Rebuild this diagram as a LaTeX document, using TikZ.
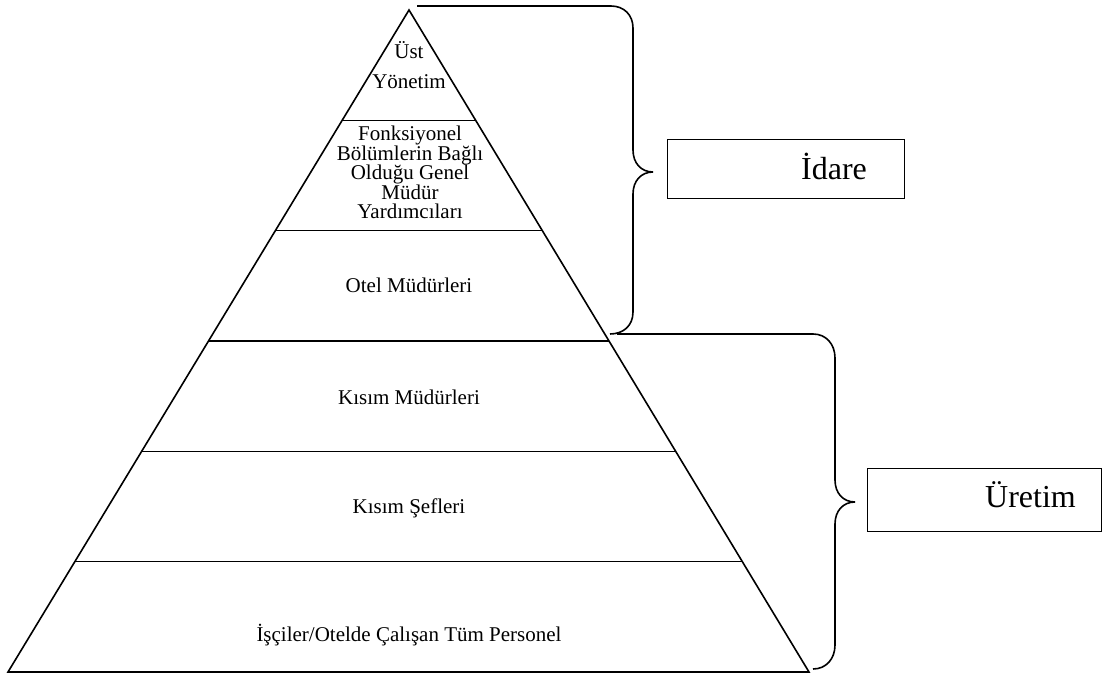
\documentclass[tikz,border=0pt]{standalone}
\usepackage{fontspec}
\setmainfont{Liberation Serif}
\usetikzlibrary{calc}
\tikzset{
  edge/.style={line width=1.6pt, line join=miter},
  brace/.style={line width=1.6pt},
  lvl/.style={inner sep=0pt, align=center, font={\fontsize{21}{19.4}\selectfont}},
  lbox/.style={draw, line width=1.4pt, minimum width=237pt, minimum height=59pt, inner sep=0pt},
  lbl/.style={inner sep=0pt, anchor=base west, font={\fontsize{32}{36}\selectfont}}
}
\begin{document}
\begin{tikzpicture}[x=1pt,y=-1pt]
\useasboundingbox (0,0) rectangle (1103,676);
% pyramid
\coordinate (apex) at (409,10);
\coordinate (bl) at (8,672);
\coordinate (br) at (809,672);
\draw[edge] (apex) -- (bl) -- (br) -- cycle;
\foreach \f/\n in {1/a,2/b,3/c,4/d,5/e}{
  \draw[edge] ($(apex)!\f/6!(bl)$) coordinate (l\n) -- ($(apex)!\f/6!(br)$) coordinate (r\n);
}
% level texts
\node[lvl, font={\fontsize{21}{30}\selectfont}] (t1) at (409,65) {Üst\\Yönetim};
\node[lvl] (t2) at (410,172.5) {Fonksiyonel\\Bölümlerin Bağlı\\Olduğu Genel\\Müdür\\Yardımcıları};
\node[lvl, anchor=base] (t3) at (409,293) {Otel Müdürleri};
\node[lvl, anchor=base] (t4) at (409,404) {Kısım Müdürleri};
\node[lvl, anchor=base] (t5) at (409,513) {Kısım Şefleri};
\node[lvl, anchor=base] (t6) at (409,641) {İşçiler/Otelde Çalışan Tüm Personel};
% boxes
\node[lbox, anchor=north west] (idare) at (667,139) {};
\node[lbl] (idaret) at (801,180) {İdare};
\node[lbox, anchor=north west, minimum width=234pt, minimum height=63pt] (uretim) at (867,468) {};
\node[lbl] (uretimt) at (985,507) {Üretim};
% braces
\coordinate (b1top) at (417,6);
\coordinate (b1tip) at (653,172);
\coordinate (b1bot) at (610,334);
\draw[brace] (b1top) -- (611,6) .. controls (624,6) and (633,15) .. (633,28)
  -- (633,150) .. controls (633,163) and (641,172) .. (b1tip)
  .. controls (641,172) and (633,181) .. (633,194)
  -- (633,312) .. controls (633,326) and (623,334) .. (b1bot);
\coordinate (b2top) at (617,334);
\coordinate (b2tip) at (855,502);
\coordinate (b2bot) at (813,669);
\draw[brace] (b2top) -- (813,334) .. controls (826,334) and (835,344) .. (835,358)
  -- (835,480) .. controls (835,493) and (843,502) .. (b2tip)
  .. controls (843,502) and (835,511) .. (835,524)
  -- (835,645) .. controls (835,659) and (826,669) .. (b2bot);
\end{tikzpicture}
\end{document}
